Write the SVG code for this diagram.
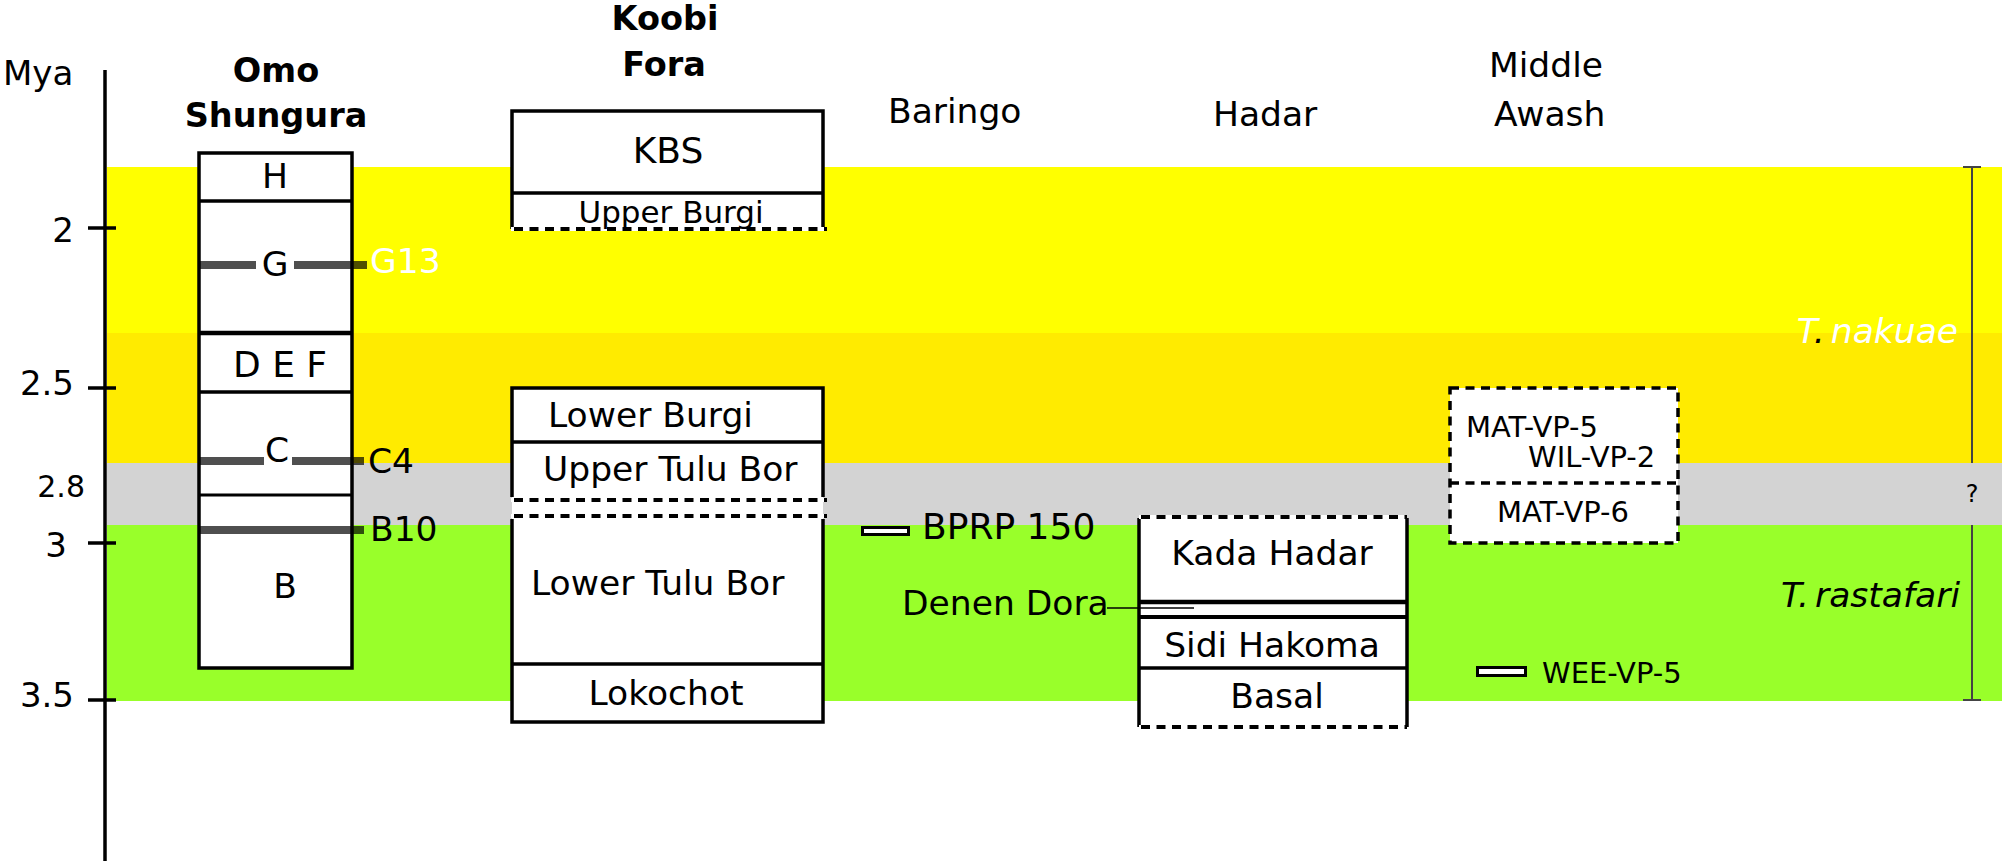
<svg xmlns="http://www.w3.org/2000/svg" width="2004" height="863" viewBox="0 0 2004 863">
<style>
text{font-family:"DejaVu Sans","Liberation Sans",sans-serif;font-size:34.5px;fill:#000}
.b{font-weight:bold;font-size:33.5px}
.s{font-size:31px}
.xs{font-size:29px}
.ax{font-size:34px}
.it{font-style:italic;font-size:34.5px}
.m{text-anchor:middle}
.e{text-anchor:end}
.box{fill:#fff;stroke:#000;stroke-width:3.5}
.ln{stroke:#000;stroke-width:3.5;fill:none}
.wh{stroke:#fff;stroke-width:4;fill:none}
.dash{stroke:#000;stroke-width:4;stroke-dasharray:9 6.5;fill:none}
.mk{stroke:#000;stroke-opacity:0.69;stroke-width:8;fill:none}
.rng{stroke:#444;stroke-width:2;fill:none}
</style>
<rect width="2004" height="863" fill="#fff"/>
<g id="bands">
<rect x="107" y="167" width="1895" height="166" fill="#ffff00"/>
<rect x="107" y="333" width="1895" height="130" fill="#ffeb00"/>
<rect x="107" y="463" width="1895" height="62" fill="#d3d3d3"/>
<rect x="107" y="525" width="1895" height="176" fill="#99ff2a"/>
</g>
<g id="axis">
<line class="ln" x1="105" y1="70" x2="105" y2="861"/>
<line class="ln" x1="88" y1="228" x2="116" y2="228"/>
<line class="ln" x1="88" y1="388" x2="116" y2="388"/>
<line class="ln" x1="88" y1="543" x2="116" y2="543"/>
<line class="ln" x1="88" y1="700" x2="116" y2="700"/>
<text class="ax" x="3" y="85">Mya</text>
<text class="ax e" x="74" y="242">2</text>
<text class="ax e" x="74" y="395">2.5</text>
<text class="e" x="85" y="497" style="font-size:30px">2.8</text>
<text class="ax e" x="67" y="557">3</text>
<text class="ax e" x="74" y="707">3.5</text>
</g>
<g id="omo-shungura">
<text class="b m" x="276" y="82">Omo</text>
<text class="b m" x="276" y="127">Shungura</text>
<rect class="box" x="199" y="153" width="153" height="515"/>
<line class="ln" x1="199" y1="201" x2="352" y2="201"/>
<line class="ln" x1="199" y1="333" x2="352" y2="333" style="stroke-width:4.5"/>
<line class="ln" x1="199" y1="392" x2="352" y2="392"/>
<line class="ln" x1="199" y1="495" x2="352" y2="495" style="stroke-width:3"/>
<line class="mk" x1="200" y1="265" x2="256" y2="265"/>
<line class="mk" x1="294" y1="265" x2="367" y2="265"/>
<line class="mk" x1="200" y1="461" x2="264" y2="461"/>
<line class="mk" x1="292" y1="461" x2="364" y2="461"/>
<line class="mk" x1="200" y1="530" x2="364" y2="530"/>
<text class="m" x="275" y="188">H</text>
<text class="m" x="275" y="276">G</text>
<text class="m" x="280" y="377" style="font-size:36px">D E F</text>
<text class="m" x="277" y="462">C</text>
<text class="m" x="285" y="598">B</text>
<text x="370" y="273" style="fill:#fff">G13</text>
<text x="368" y="473">C4</text>
<text x="370" y="541">B10</text>
</g>
<g id="koobi-fora">
<text class="b m" x="665" y="30">Koobi</text>
<text class="b m" x="664" y="76">Fora</text>
<rect x="512" y="111" width="311" height="118" fill="#fff"/>
<path class="ln" d="M512,229 V111 H823 V229"/>
<line class="ln" x1="512" y1="193" x2="823" y2="193"/>
<line class="wh" x1="511" y1="229" x2="827" y2="229"/>
<line class="dash" x1="514" y1="229" x2="827" y2="229"/>
<text class="m" x="668" y="163" style="font-size:36px">KBS</text>
<text class="s m" x="671" y="223">Upper Burgi</text>
<rect x="512" y="388" width="311" height="334" fill="#fff"/>
<path class="ln" d="M512,497 V388 H823 V497"/>
<line class="ln" x1="512" y1="442" x2="823" y2="442"/>
<path class="ln" d="M512,519 V722 H823 V519"/>
<line class="ln" x1="512" y1="664" x2="823" y2="664"/>
<line class="wh" x1="511" y1="500" x2="827" y2="500"/>
<line class="dash" x1="514" y1="500" x2="827" y2="500"/>
<line class="wh" x1="511" y1="516" x2="827" y2="516"/>
<line class="dash" x1="514" y1="516" x2="827" y2="516"/>
<text x="548" y="427">Lower Burgi</text>
<text x="543" y="481">Upper Tulu Bor</text>
<text x="531" y="595">Lower Tulu Bor</text>
<text class="m" x="666" y="705">Lokochot</text>
</g>
<g id="baringo">
<text x="888" y="123">Baringo</text>
<rect x="862.5" y="527.5" width="46" height="7" class="box" style="stroke-width:3"/>
<text x="922" y="539" style="font-size:36px">BPRP 150</text>
</g>
<g id="hadar">
<text x="1213" y="126">Hadar</text>
<rect x="1139" y="517" width="268" height="210" fill="#fff"/>
<line class="ln" x1="1139" y1="518" x2="1139" y2="727"/>
<line class="ln" x1="1407" y1="518" x2="1407" y2="727"/>
<line class="wh" x1="1139" y1="517" x2="1407" y2="517"/>
<line class="dash" x1="1141" y1="517" x2="1407" y2="517"/>
<line class="wh" x1="1139" y1="727" x2="1407" y2="727"/>
<line class="dash" x1="1141" y1="727" x2="1407" y2="727"/>
<line class="ln" x1="1139" y1="602" x2="1407" y2="602" style="stroke-width:4.5"/>
<line class="ln" x1="1139" y1="617" x2="1407" y2="617" style="stroke-width:4"/>
<line class="ln" x1="1139" y1="668" x2="1407" y2="668"/>
<text class="m" x="1272" y="565">Kada Hadar</text>
<text class="m" x="1272" y="657">Sidi Hakoma</text>
<text class="m" x="1277" y="708">Basal</text>
<text x="902" y="615">Denen Dora</text>
</g>
<g id="middle-awash">
<text x="1489" y="77">Middle</text>
<text x="1494" y="126">Awash</text>
<rect x="1450" y="388" width="228" height="155" fill="#fff"/>
<rect class="dash" x="1450" y="388" width="228" height="155" style="stroke-width:3.5"/>
<line class="dash" x1="1450" y1="483" x2="1678" y2="483" style="stroke-width:3.5"/>
<text class="xs" x="1466" y="437">MAT-VP-5</text>
<text class="xs" x="1528" y="467">WIL-VP-2</text>
<text class="xs" x="1497" y="522">MAT-VP-6</text>
<rect x="1477.5" y="667.5" width="48" height="8" class="box" style="stroke-width:3"/>
<text class="xs" x="1542" y="683">WEE-VP-5</text>
</g>
<g id="species">
<text class="it e" x="1958" y="343"><tspan style="fill:#fff">T</tspan><tspan>.</tspan><tspan style="fill:#fff" dx="6">nakuae</tspan></text>
<text class="it e" x="1960" y="607">T.<tspan dx="6">rastafari</tspan></text>
<text class="m" x="1972" y="502" style="font-size:24px">?</text>
</g>
<g id="connectors">
<line x1="1107" y1="608" x2="1194" y2="608" stroke="#000" stroke-width="1.5"/>
<path class="rng" d="M1972,167 V463 M1972,525 V700 M1963,167 H1981 M1963,700 H1981"/>
</g>
</svg>
